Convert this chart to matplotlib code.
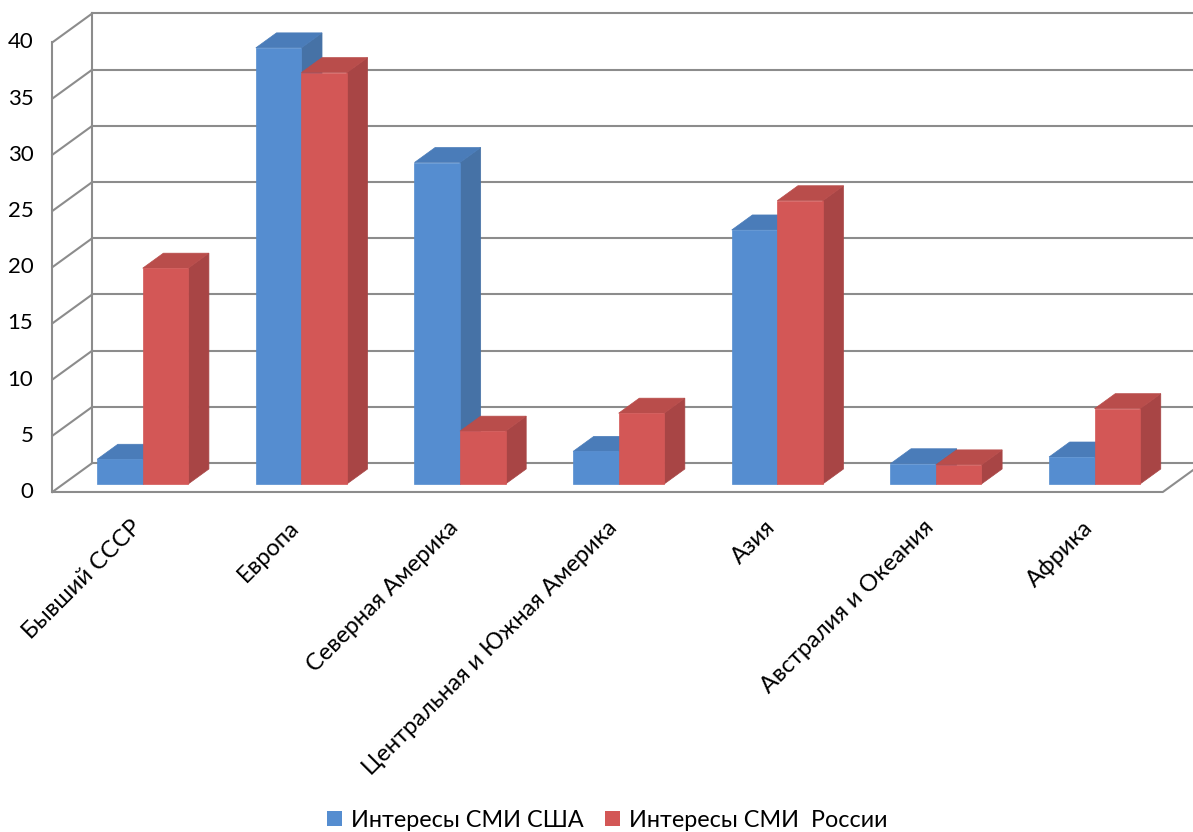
import matplotlib
matplotlib.use("Agg")
import matplotlib.pyplot as plt
from matplotlib.patches import Polygon, Rectangle
import numpy as np

plt.rcParams['font.family'] = ['Lato', 'DejaVu Sans']

categories = ['Бывший СССР', 'Европа', 'Северная Америка',
              'Центральная и Южная Америка', 'Азия', 'Австралия и Океания', 'Африка']
usa = [2.2, 38.8, 28.6, 2.9, 22.6, 1.8, 2.4]
russia = [19.2, 36.6, 4.7, 6.3, 25.2, 1.7, 6.7]
series_names = ['Интересы СМИ США', 'Интересы СМИ  России']
yticks = [0, 5, 10, 15, 20, 25, 30, 35, 40]

# colours: front, top, side
blue = ('#558dd0', '#4a7cb9', '#4672a6')
red = ('#d35756', '#b94d4b', '#a84545')
grid_c = '#8c8c8c'

# oblique projection: depth z in [0, 1] shifts point right and up
DX, DY = 0.252, 2.58
def P(x, y, z):
    return (x + DX * z, y + DY * z)

fig = plt.figure(figsize=(11.93, 8.32), dpi=100)
ax = fig.add_axes([0, 0, 1, 1])
ax.set_xlim(-0.83, 6.69)
ax.set_ylim(-30.25, 43.77)
ax.axis('off')

x0, x1 = -0.5, 6.5
ymax = yticks[-1]

# back wall gridlines and side wall
for v in yticks:
    a, b = P(x0, v, 1), P(x1 + 0.5, v, 1)
    ax.plot([a[0], b[0]], [a[1], b[1]], color=grid_c, lw=1.5, zorder=1)
    a, b = P(x0, v, 0), P(x0, v, 1)
    ax.plot([a[0], b[0]], [a[1], b[1]], color=grid_c, lw=1.5, zorder=1)
    ax.text(x0 - 0.12, v, str(v), ha='right', va='center', fontsize=16, color='black')
for z in (0, 1):
    a, b = P(x0, 0, z), P(x0, ymax, z)
    ax.plot([a[0], b[0]], [a[1], b[1]], color=grid_c, lw=1.5, zorder=1)
# floor front edge and right edge
a, b, c = P(x0, 0, 0), P(x1, 0, 0), P(x1, 0, 1)
ax.plot([a[0], b[0], c[0]], [a[1], b[1], c[1]], color=grid_c, lw=1.5, zorder=1)

w = 0.287
zf, zb = 0.276, 0.793

def bar3d(xl, h, cols, zo):
    front = [P(xl, 0, zf), P(xl + w, 0, zf), P(xl + w, h, zf), P(xl, h, zf)]
    top = [P(xl, h, zf), P(xl + w, h, zf), P(xl + w, h, zb), P(xl, h, zb)]
    side = [P(xl + w, 0, zf), P(xl + w, 0, zb), P(xl + w, h, zb), P(xl + w, h, zf)]
    for pts, c in ((side, cols[2]), (top, cols[1]), (front, cols[0])):
        ax.add_patch(Polygon(pts, closed=True, facecolor=c, edgecolor=c, lw=0.5, zorder=zo))

for i in range(len(categories)):
    bar3d(i - w, usa[i], blue, 3 + 2 * i)
    bar3d(i, russia[i], red, 4 + 2 * i)
    lx, ly = P(i - 0.01, -2.2, 0)
    ax.text(lx, ly, categories[i], rotation=45, rotation_mode='anchor',
            ha='right', va='top', fontsize=17, color='black')

# legend
handles = [Rectangle((0, 0), 1, 1, facecolor=blue[0]), Rectangle((0, 0), 1, 1, facecolor=red[0])]
fig.legend(handles, series_names, loc='center', bbox_to_anchor=(0.509, 0.014), ncol=2,
           frameon=False, fontsize=16.8, handlelength=0.65, handleheight=0.65,
           handletextpad=0.4, columnspacing=0.9)

fig.savefig('out.png', dpi=100)
